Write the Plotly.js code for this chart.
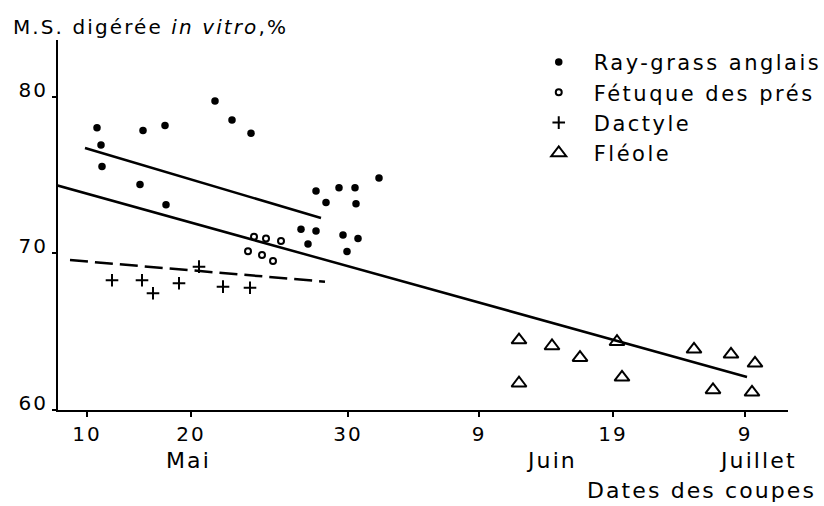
<!DOCTYPE html>
<html>
<head>
<meta charset="utf-8">
<script src="https://cdn.plot.ly/plotly-3.0.1.min.js"></script>
<style>
  html, body { margin: 0; padding: 0; background: #fff; }
  #chart { width: 824px; height: 506px; }
  text.legendtext { letter-spacing: 2.5px; }
  text.annotation-text { letter-spacing: 2.1px; }
  g.xtick text, g.ytick text { letter-spacing: 2px; }
</style>
</head>
<body>
<div id="chart"></div>
<script>
// x values are positions on the drawn (non-linear) date scale of the original figure
// y values: digested dry matter in vitro, %

const tickPos = [87, 191, 348, 479, 613, 745];
const tickLabels = ["10", "20", "30", "9", "19", "9"];
const monthLabels = ["Mai", "Juin", "Juillet"];
const monthPos = [188, 551, 758];

const seriesNames = ["Ray-grass anglais", "Fétuque des prés", "Dactyle", "Fléole"];

const rayX = [97, 101, 102, 140, 143, 165, 166, 215, 232, 251, 301, 308, 316, 316, 326, 339, 343, 347, 355, 356, 358, 379];
const rayY = [78.04, 76.93, 75.55, 74.40, 77.85, 78.17, 73.12, 79.74, 78.53, 77.68, 71.55, 70.61, 73.99, 71.44, 73.25, 74.20, 71.18, 70.12, 74.20, 73.18, 70.95, 74.82];

const fetX = [254, 266, 281, 248, 262, 273];
const fetY = [71.07, 70.95, 70.80, 70.14, 69.90, 69.52];

const dacX = [112, 142, 153, 179, 199, 223, 250];
const dacY = [68.29, 68.29, 67.46, 68.10, 69.16, 67.88, 67.81];

const fleX = [519, 552, 580, 617, 519, 622, 694, 731, 755, 713, 752];
const fleY = [64.47, 64.09, 63.34, 64.36, 61.71, 62.09, 63.88, 63.56, 62.98, 61.28, 61.13];

// regression lines (end points)
const rayLineX = [85, 321];
const rayLineY = [76.74, 72.27];
const allLineX = [52, 747];
const allLineY = [74.44, 62.11];
const dacLineX = [70, 325];
const dacLineY = [69.58, 68.20];

const FONT = "DejaVu Sans";

const traces = [
  { x: rayX, y: rayY, name: seriesNames[0], type: "scatter", mode: "markers", legendgroup: "a",
    marker: { symbol: "circle", size: 7.5, color: "#000" } },
  { x: fetX, y: fetY, name: seriesNames[1], type: "scatter", mode: "markers", legendgroup: "b",
    marker: { symbol: "circle-open", size: 6, color: "#000", line: { width: 2, color: "#000" } } },
  { x: dacX, y: dacY, name: seriesNames[2], type: "scatter", mode: "markers", legendgroup: "c",
    marker: { symbol: "cross-thin-open", size: 9, color: "#000", line: { width: 2, color: "#000" } } },
  { x: fleX, y: fleY, name: seriesNames[3], type: "scatter", mode: "markers", legendgroup: "d",
    marker: { symbol: "triangle-up-open", size: 13, color: "#000", line: { width: 2, color: "#000" } } },
  { x: rayLineX, y: rayLineY, type: "scatter", mode: "lines", showlegend: false, hoverinfo: "skip",
    line: { color: "#000", width: 2.5 } },
  { x: allLineX, y: allLineY, type: "scatter", mode: "lines", showlegend: false, hoverinfo: "skip",
    line: { color: "#000", width: 2.5 } },
  { x: dacLineX, y: dacLineY, type: "scatter", mode: "lines", showlegend: false, hoverinfo: "skip",
    line: { color: "#000", width: 2.5, dash: "18px,7px" } }
];

const annotations = monthLabels.map((m, i) => ({
  text: m, x: monthPos[i], xref: "x", y: 0, yref: "paper", yshift: -50,
  showarrow: false, xanchor: "center", yanchor: "middle",
  font: { family: FONT, size: 22, color: "#000" }
}));
annotations.push({
  text: "Dates des coupes", x: 1.041, xref: "paper", y: 0, yref: "paper", yshift: -80,
  showarrow: false, xanchor: "right", yanchor: "middle",
  font: { family: FONT, size: 22, color: "#000" }
});
annotations.push({
  text: "M.S. digérée <i>in vitro</i>,%", x: -0.064, xref: "paper", y: 1, yref: "paper", yshift: 13,
  showarrow: false, xanchor: "left", yanchor: "middle",
  font: { family: FONT, size: 20, color: "#000" }
});

const layout = {
  width: 824, height: 506,
  margin: { l: 58, r: 36, t: 40, b: 96, autoexpand: false },
  paper_bgcolor: "#fff", plot_bgcolor: "#fff",
  showlegend: true,
  legend: {
    x: 0.638, y: 0.995, xanchor: "left", yanchor: "top",
    font: { family: FONT, size: 21, color: "#000" },
    itemwidth: 60, tracegroupgap: 0, traceorder: "grouped",
    bgcolor: "rgba(0,0,0,0)"
  },
  xaxis: {
    range: [58, 788], showgrid: false, zeroline: false, automargin: false,
    showline: true, linecolor: "#000", linewidth: 2,
    ticks: "outside", ticklen: 5, tickwidth: 2, tickcolor: "#000",
    tickvals: tickPos, ticktext: tickLabels,
    tickfont: { family: FONT, size: 20, color: "#000" }
  },
  yaxis: {
    range: [60, 83.64], showgrid: false, zeroline: false, automargin: false,
    showline: true, linecolor: "#000", linewidth: 2,
    ticks: "outside", ticklen: 4, tickwidth: 2, tickcolor: "#000",
    tickvals: [60, 70, 80], ticktext: ["60", "70", "80"],
    ticklabelshift: -7,
    tickfont: { family: FONT, size: 20, color: "#000" }
  },
  annotations: annotations
};

Plotly.newPlot("chart", traces, layout, { staticPlot: true, displayModeBar: false });
</script>
</body>
</html>
